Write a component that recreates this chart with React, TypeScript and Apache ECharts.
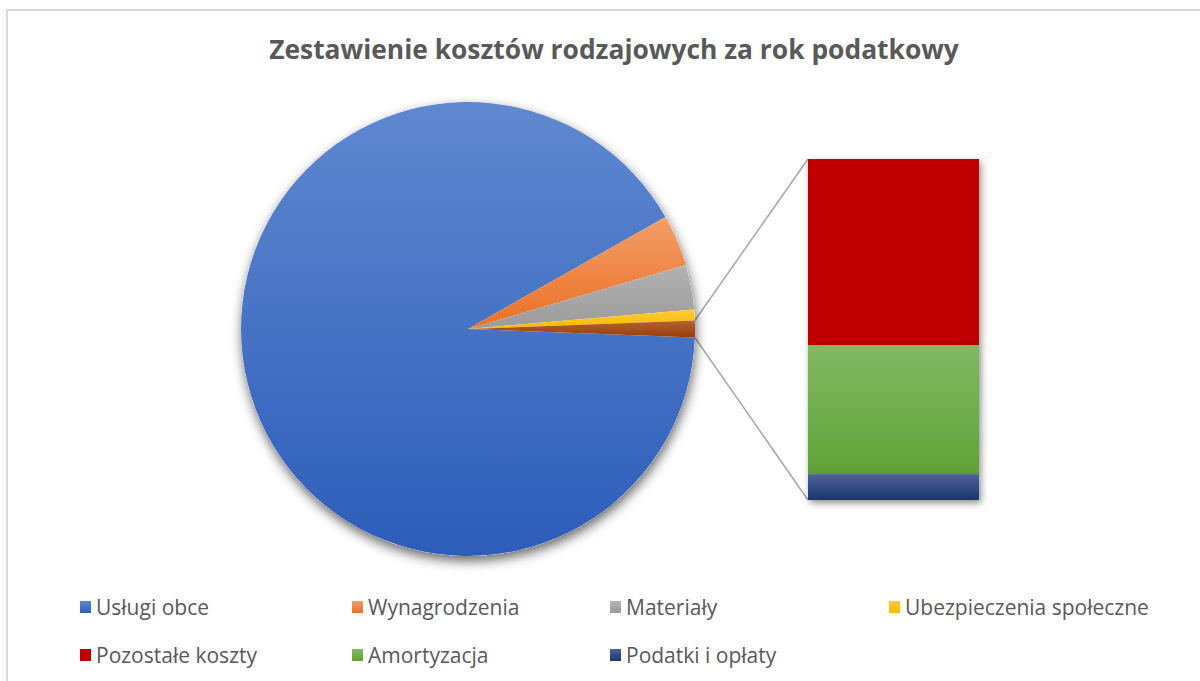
import React, { useEffect, useRef } from "react";
import * as echarts from "echarts";

const TITLE = "Zestawienie kosztów rodzajowych za rok podatkowy";

// Pie slices (main)
const pieNames = ["Usługi obce", "Wynagrodzenia", "Materiały", "Ubezpieczenia społeczne"];
const pieValues = [91.19, 3.67, 3.17, 0.78];

// Split-out ("bar of pie") items
const barNames = ["Pozostałe koszty", "Amortyzacja", "Podatki i opłaty"];
const barValues = [0.65, 0.45, 0.09];

const OTHER_NAME = "Inne";

const grad = (top: string, bottom: string) =>
  new echarts.graphic.LinearGradient(0, 0, 0, 1, [
    { offset: 0, color: top },
    { offset: 1, color: bottom },
  ]);

const pieColors = [
  ["#6088D0", "#2D5DBA"],
  ["#F39E69", "#EB7024"],
  ["#B2B2B2", "#9B9B9B"],
  ["#FFCC33", "#F5BA00"],
];
const otherColor = ["#B5632F", "#973D0A"];
const barColors = [
  ["#C00000", "#C00000"],
  ["#82B964", "#60A236"],
  ["#4E6296", "#1B3670"],
];

const legendColumns = [
  ["Usługi obce", "Pozostałe koszty"],
  ["Wynagrodzenia", "Amortyzacja"],
  ["Materiały", "Podatki i opłaty"],
  ["Ubezpieczenia społeczne"],
];
const legendLeft = [80, 352, 610, 889];

export default function App() {
  const ref = useRef<HTMLDivElement>(null);
  useEffect(() => {
    if (!ref.current) return;
    const chart = echarts.init(ref.current, undefined, { renderer: "svg" });

    const cx = 468;
    const cy = 329;
    const R = 227;
    const gridLeft = 808;
    const gridTop = 159;
    const gridWidth = 171;
    const gridHeight = 341;

    const otherTotal = barValues.reduce((a, b) => a + b, 0);
    const total = pieValues.reduce((a, b) => a + b, 0) + otherTotal;
    const half = (otherTotal / total) * 180; // degrees
    const startAngle = -half;

    const rad = (d: number) => (d * Math.PI) / 180;
    const pTop = [cx + R * Math.cos(rad(half)), cy - R * Math.sin(rad(half))];
    const pBot = [cx + R * Math.cos(rad(-half)), cy - R * Math.sin(rad(-half))];

    const pieData = pieNames.map((n, i) => ({
      name: n,
      value: pieValues[i],
      itemStyle: { color: grad(pieColors[i][0], pieColors[i][1]) },
    }));
    pieData.push({
      name: OTHER_NAME,
      value: otherTotal,
      itemStyle: { color: grad(otherColor[0], otherColor[1]) },
    });

    const font = "'Open Sans', 'Noto Sans', sans-serif";

    const barSeries = barNames.map((n, i) => ({
      type: "bar",
      name: n,
      stack: "inne",
      data: [barValues[i]],
      barWidth: "100%",
      itemStyle: {
        color: grad(barColors[i][0], barColors[i][1]),
        borderWidth: 0,
        shadowBlur: 7,
        shadowColor: "rgba(0,0,0,0.45)",
        shadowOffsetX: 2,
        shadowOffsetY: 3,
      },
      emphasis: { disabled: true },
      silent: true,
    }));

    // bar stack from bottom: navy, green, red
    const orderedBar = [barSeries[2], barSeries[1], barSeries[0]];

    chart.setOption({
      animation: false,
      backgroundColor: "#ffffff",
      title: {
        text: TITLE,
        left: 609,
        top: 31,
        textAlign: "center",
        textStyle: {
          fontFamily: font,
          fontSize: 26.4,
          fontWeight: "bold",
          color: "#595959",
        },
      },
      legend: legendColumns.map((col, i) => ({
        data: col,
        orient: "vertical",
        left: legendLeft[i],
        top: 596,
        itemWidth: 11,
        itemHeight: 12,
        itemGap: 26,
        icon: "rect",
        selectedMode: false,
        padding: 0,
        textStyle: {
          fontFamily: font,
          fontSize: 21,
          lineHeight: 22,
          color: "#595959",
        },
      })),
      grid: {
        left: gridLeft,
        top: gridTop,
        width: gridWidth,
        height: gridHeight,
        containLabel: false,
      },
      xAxis: {
        type: "category",
        data: [OTHER_NAME],
        show: false,
      },
      yAxis: {
        type: "value",
        min: 0,
        max: "dataMax",
        show: false,
      },
      series: [
        {
          type: "pie",
          name: "tło",
          center: [cx, cy],
          radius: R,
          silent: true,
          z: 1,
          label: { show: false },
          labelLine: { show: false },
          data: [{ value: 1, name: "tło" }],
          itemStyle: {
            color: "#ffffff",
            shadowBlur: 12,
            shadowColor: "rgba(0,0,0,0.6)",
            shadowOffsetX: 1,
            shadowOffsetY: 5,
          },
          emphasis: { disabled: true },
        },
        {
          type: "pie",
          name: "koszty",
          center: [cx, cy],
          radius: R,
          startAngle,
          clockwise: true,
          z: 2,
          silent: true,
          label: { show: false },
          labelLine: { show: false },
          itemStyle: { borderWidth: 0 },
          emphasis: { disabled: true },
          data: pieData,
        },
        ...orderedBar.map((s, k) => ({ ...s, z: 4 - k })),
      ],
      graphic: [
        {
          type: "rect",
          shape: { x: 7, y: 10, width: 1210, height: 700 },
          style: { fill: "none", stroke: "#D9D9D9", lineWidth: 2 },
          silent: true,
          z: -10,
        },
        {
          type: "line",
          shape: { x1: pTop[0], y1: pTop[1], x2: gridLeft, y2: gridTop },
          style: { stroke: "#A6A6A6", lineWidth: 1.5 },
          silent: true,
        },
        {
          type: "line",
          shape: { x1: pBot[0], y1: pBot[1], x2: gridLeft, y2: gridTop + gridHeight },
          style: { stroke: "#A6A6A6", lineWidth: 1.5 },
          silent: true,
        },
      ],
    });

    return () => chart.dispose();
  }, []);

  return (
    <div
      ref={ref}
      style={{ position: "absolute", left: 0, top: 0, width: 1200, height: 681 }}
    />
  );
}
